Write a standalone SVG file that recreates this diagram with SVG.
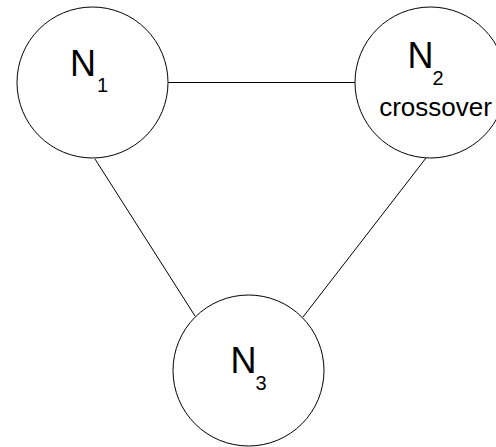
<svg xmlns="http://www.w3.org/2000/svg" width="496" height="447" viewBox="0 0 496 447">
  <style>
    .node { fill: #ffffff; stroke: #000000; stroke-width: 1; }
    .edge { stroke: #000000; stroke-width: 1; fill: none; }
    .lbl { font-family: "Liberation Sans", Arial, sans-serif; fill: #000000; }
    .big { font-size: 36px; }
    .sub { font-size: 20px; }
    .note { font-size: 26px; text-anchor: middle; }
  </style>
  <rect width="496" height="447" fill="#ffffff"/>
  <g id="connectors">
    <line class="edge" x1="168" y1="82.5" x2="355" y2="82.5"/>
    <line class="edge" x1="95" y1="159" x2="195" y2="316"/>
    <line class="edge" x1="426" y1="158" x2="303" y2="317"/>
  </g>
  <g id="n1">
    <circle class="node" cx="92.5" cy="82.5" r="75.5"/>
    <text class="lbl big" x="70" y="76">N</text>
    <text class="lbl sub" x="97" y="92">1</text>
  </g>
  <g id="n2">
    <circle class="node" cx="430.5" cy="82.5" r="75.5"/>
    <text class="lbl big" x="407.5" y="68">N</text>
    <text class="lbl sub" x="432.5" y="85">2</text>
    <text class="lbl note" x="435.5" y="116">crossover</text>
  </g>
  <g id="n3">
    <circle class="node" cx="248.5" cy="370.5" r="75.5"/>
    <text class="lbl big" x="230.5" y="373">N</text>
    <text class="lbl sub" x="255.5" y="390">3</text>
  </g>
</svg>
